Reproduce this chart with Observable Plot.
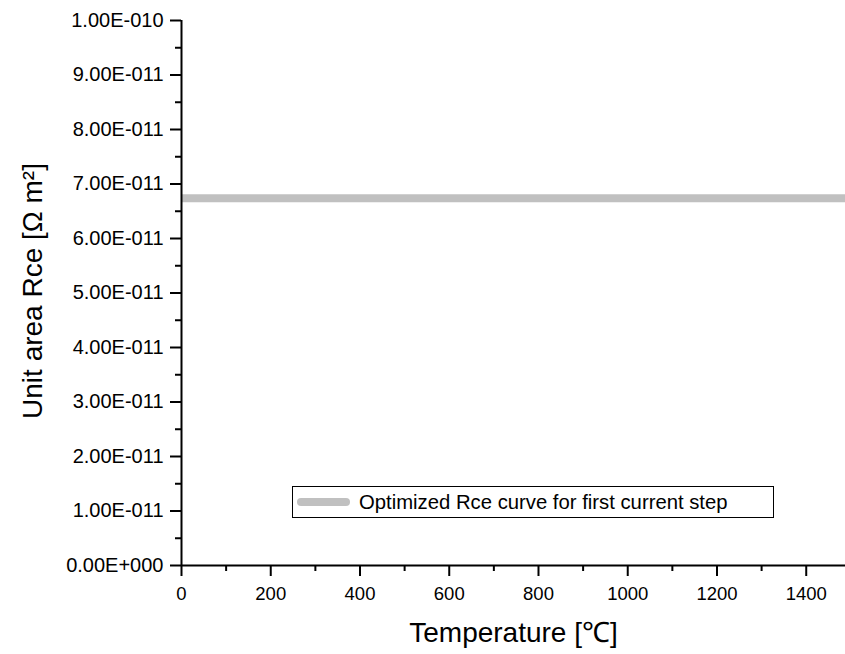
<!DOCTYPE html>
<html>
<head>
<meta charset="utf-8">
<script src="https://cdn.jsdelivr.net/npm/d3@7"></script>
<script src="https://cdn.jsdelivr.net/npm/@observablehq/plot@0.6"></script>
<style>
  html, body { margin: 0; padding: 0; background: white; }
  #wrap { position: relative; width: 845px; height: 654px; font-family: "Liberation Sans", Arial, sans-serif; }
  #legend { position: absolute; left: 292px; top: 486px; width: 482px; height: 32px; box-sizing: border-box;
    border: 1px solid black; background: white; display: flex; align-items: center; font-size: 20.3px; color: black; }
  #legend svg { margin-left: 4px; margin-right: 9px; }
</style>
</head>
<body>
<div id="wrap"></div>
<script>
// Data
const temperature = [0, 1500];
const rce = [6.74e-11, 6.74e-11];
const seriesName = "Optimized Rce curve for first current step";
const seriesColor = "#c0c0c0";

// Ticks
const xTicks = [0, 200, 400, 600, 800, 1000, 1200, 1400];
const xMinor = [100, 300, 500, 700, 900, 1100, 1300];
const yTicks = [0, 1e-11, 2e-11, 3e-11, 4e-11, 5e-11, 6e-11, 7e-11, 8e-11, 9e-11, 1e-10];
const yMinor = [5e-12, 1.5e-11, 2.5e-11, 3.5e-11, 4.5e-11, 5.5e-11, 6.5e-11, 7.5e-11, 8.5e-11, 9.5e-11];

const xTitle = "Temperature [℃]";
const yTitle = "Unit area Rce [Ω m²]";

function sci(v) {
  if (v === 0) return "0.00E+000";
  const [m, e] = v.toExponential(2).split("e");
  const n = +e;
  return m + "E" + (n < 0 ? "-" : "+") + String(Math.abs(n)).padStart(3, "0");
}

const rows = temperature.map((t, i) => ({t, r: rce[i]}));

const chart = Plot.plot({
  width: 845,
  height: 654,
  marginLeft: 181,
  marginRight: 0,
  marginTop: 20,
  marginBottom: 89,
  x: {domain: [0, 1488]},
  y: {domain: [0, 1e-10]},
  style: {fontFamily: "'Liberation Sans', Arial, sans-serif", background: "white", color: "black", overflow: "visible"},
  marks: [
    Plot.lineY(rows, {x: "t", y: "r", stroke: seriesColor, strokeWidth: 8, clip: true}),
    Plot.axisY({ticks: yMinor, tickSize: 6, strokeWidth: 2, fill: "none", label: null}),
    Plot.axisY({ticks: yTicks, tickSize: 11, tickPadding: 7, tickFormat: sci, fontSize: 20, strokeWidth: 2, label: null}),
    Plot.axisX({ticks: xMinor, tickSize: 6, strokeWidth: 2, fill: "none", label: null}),
    Plot.axisX({ticks: xTicks, tickSize: 11, tickPadding: 10, tickFormat: d => String(d), fontSize: 18.5, strokeWidth: 2, label: null}),
    Plot.ruleX([0], {strokeWidth: 2}),
    Plot.ruleY([0], {strokeWidth: 2}),
    Plot.text([xTitle], {frameAnchor: "bottom", lineAnchor: "top", dy: 57, fontSize: 28}),
    Plot.text([yTitle], {frameAnchor: "left", textAnchor: "middle", rotate: -90, dx: -148, dy: -2, fontSize: 28})
  ]
});

const wrap = document.getElementById("wrap");
wrap.appendChild(chart);

const legend = document.createElement("div");
legend.id = "legend";
legend.innerHTML = `<svg width="53" height="10"><line x1="4" y1="5" x2="49" y2="5" stroke="${seriesColor}" stroke-width="8" stroke-linecap="round"/></svg><span>${seriesName}</span>`;
wrap.appendChild(legend);
</script>
</body>
</html>
